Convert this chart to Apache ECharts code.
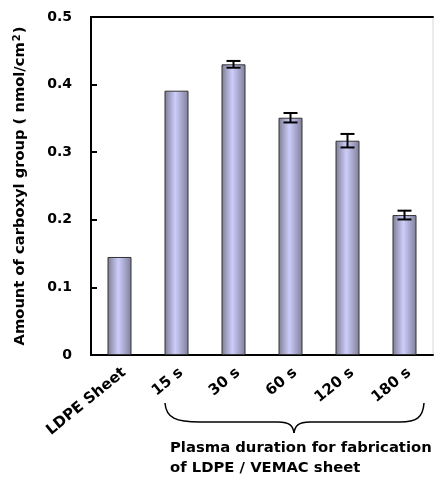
<!DOCTYPE html>
<html><head><meta charset="utf-8">
<script src="https://cdn.jsdelivr.net/npm/echarts@6/dist/echarts.min.js"></script>
<style>html,body{margin:0;padding:0;background:#fff}#c{width:434px;height:483px}</style>
</head><body><div id="c"></div>
<script>
var categories = ['LDPE Sheet', '15 s', '30 s', '60 s', '120 s', '180 s'];
var values = [0.145, 0.391, 0.430, 0.351, 0.317, 0.207];
var errors = [0, 0, 0.005, 0.007, 0.010, 0.0065];
var yTicks = [0, 0.1, 0.2, 0.3, 0.4, 0.5];

var FONT = 'DejaVu Sans';
var chart = echarts.init(document.getElementById('c'));
var errData = values.map(function (v, i) { return [i, v - errors[i], v + errors[i]]; }).filter(function (d, i) { return errors[i] > 0; });

var braceStyle = { stroke: '#000', lineWidth: 1.5, fill: null };
function bz(x1, y1, c1x, c1y, c2x, c2y, x2, y2) {
  return { type: 'bezierCurve', shape: { x1: x1, y1: y1, cpx1: c1x, cpy1: c1y, cpx2: c2x, cpy2: c2y, x2: x2, y2: y2 }, style: braceStyle };
}
function ln(x1, y1, x2, y2) {
  return { type: 'line', shape: { x1: x1, y1: y1, x2: x2, y2: y2 }, style: braceStyle };
}

chart.setOption({
  animation: false,
  grid: { left: 91, top: 17, right: 1, bottom: 128, show: true, borderColor: '#d8d8d8', borderWidth: 1 },
  xAxis: [{
    type: 'category', data: categories,
    axisLine: { lineStyle: { color: '#000', width: 2 } },
    axisTick: { inside: true, length: 6, lineStyle: { color: '#000', width: 2 } },
    axisLabel: { rotate: 39, margin: 10, verticalAlign: 'top', color: '#000', fontFamily: FONT, fontWeight: 'bold', fontSize: 15 }
  }, {
    type: 'category', data: categories, position: 'top',
    axisLine: { lineStyle: { color: '#000', width: 2 } },
    axisTick: { show: false }, axisLabel: { show: false }
  }],
  yAxis: {
    type: 'value', min: 0, max: 0.5, interval: 0.1,
    splitLine: { show: false },
    axisLine: { show: true, lineStyle: { color: '#000', width: 2 } },
    axisTick: { show: true, inside: true, length: 6, lineStyle: { color: '#000', width: 2 } },
    axisLabel: { margin: 19, color: '#000', fontFamily: FONT, fontWeight: 'bold', fontSize: 14,
      formatter: function (v) { return v === 0 ? '0' : v.toFixed(1); } },
    name: '{n|Amount of carboxyl group ( nmol/cm}{s|2}{n|)}',
    nameLocation: 'middle', nameGap: 63, nameRotate: 90,
    nameTextStyle: { rich: {
      n: { fontFamily: FONT, fontWeight: 'bold', fontSize: 14.7, color: '#000' },
      s: { fontFamily: FONT, fontWeight: 'bold', fontSize: 10, color: '#000', verticalAlign: 'top', padding: [0, 1, 6, 1] }
    } }
  },
  series: [{
    type: 'bar', data: values, barWidth: 24,
    itemStyle: {
      borderColor: '#333', borderWidth: 1,
      color: { type: 'linear', x: 0, y: 0, x2: 1, y2: 0, colorStops: [
        { offset: 0, color: '#7c7c92' }, { offset: 0.45, color: '#cdcdfc' }, { offset: 1, color: '#7e7e98' }
      ] }
    }
  }, {
    type: 'custom', data: errData, z: 5,
    renderItem: function (params, api) {
      var x = api.value(0);
      var lo = api.coord([x, api.value(1)]);
      var hi = api.coord([x, api.value(2)]);
      var hw = 7;
      var st = { stroke: '#000', lineWidth: 2 };
      return { type: 'group', children: [
        { type: 'line', shape: { x1: lo[0], y1: lo[1], x2: hi[0], y2: hi[1] }, style: st },
        { type: 'line', shape: { x1: lo[0] - hw, y1: lo[1], x2: lo[0] + hw, y2: lo[1] }, style: st },
        { type: 'line', shape: { x1: hi[0] - hw, y1: hi[1], x2: hi[0] + hw, y2: hi[1] }, style: st }
      ] };
    }
  }],
  graphic: [
    bz(165, 403, 166, 418, 176, 422, 200, 422),
    ln(200, 422, 278, 422),
    bz(278, 422, 290, 422, 293, 426, 294, 433),
    bz(294, 433, 295, 426, 298, 422, 310, 422),
    ln(310, 422, 400, 422),
    bz(400, 422, 416, 422, 423, 418, 424, 403),
    {
      type: 'text', left: 170, top: 438,
      style: { text: 'Plasma duration for fabrication\nof LDPE / VEMAC sheet', fontFamily: FONT, fontWeight: 'bold', fontSize: 14.8, lineHeight: 20, fill: '#000' }
    }
  ]
});
</script></body></html>
